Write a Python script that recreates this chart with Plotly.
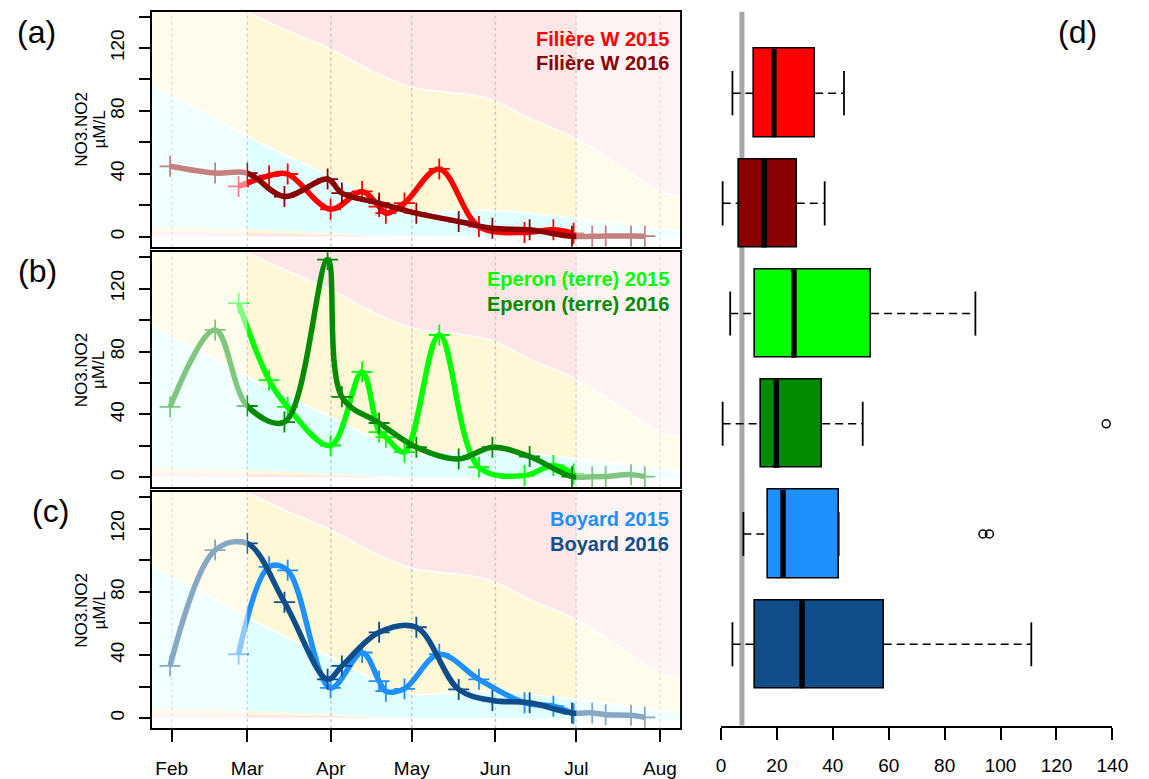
import plotly.graph_objects as go

# ---------------- data ----------------
month_days = [32, 60, 91, 121, 152, 182, 213]
month_labels = ["Feb", "Mar", "Apr", "May", "Jun", "Jul", "Aug"]

days_2015 = [56.8, 68.1, 75.0, 90.9, 102.6, 108.9, 111.4, 118.3, 131.2, 145.9, 162.8, 173.5, 181.0]
days_2016 = [31.4, 48.1, 60.0, 73.8, 89.8, 95.1, 108.9, 122.7, 138.4, 150.9, 164.7, 180.4,
             187.9, 192.9, 202.3, 207.4]

filiere_2015 = [32.0, 38.8, 39.9, 17.5, 28.8, 19.2, 15.0, 21.4, 43.1, 6.5, 2.7, 4.4, 2.2]
filiere_2016 = [44.8, 40.5, 40.5, 25.6, 36.7, 27.8, 21.4, 15.0, 9.7, 5.4, 4.4, 0.3, 0.3, 0.5, 0.5, 0.4]
eperon_2015 = [110.8, 61.8, 44.8, 20.3, 67.1, 28.8, 25.6, 16.1, 90.5, 6.5, 1.2, 7.6, 2.2]
eperon_2016 = [44.8, 93.7, 45.4, 35.2, 138.4, 51.2, 34.6, 19.2, 11.8, 19.2, 13.3, 0.5, 0.5, 0.6, 1.8, 0.5]
boyard_2015 = [40.5, 95.9, 93.7, 19.2, 41.6, 23.5, 17.1, 18.6, 40.5, 24.6, 9.7, 7.6, 2.7]
boyard_2016 = [33.1, 106.5, 110.8, 73.5, 24.6, 33.1, 54.4, 57.6, 18.2, 11.2, 9.7, 3.3, 3.3, 2.2, 1.8, 0.5]

# background threshold envelopes (day of year -> value)
band_days = [24.8, 42, 60, 75, 91, 106, 121, 134, 150, 165, 182, 200, 213, 221]
band_top = [170, 157, 142.7, 131, 119.3, 105.6, 95, 92, 87.5, 75, 62.5, 43, 28.8, 25.6]
band_mid = [95.9, 81, 63.9, 51.2, 38.6, 25.6, 15.2, 16, 17, 15, 11.8, 8, 5, 3.5]
band_low1 = [6.5, 5.6, 4.6, 3.6, 2.4, 1.0, 0.3, 0.1, 0.0, -0.2, -0.4, -0.6, -0.8, -0.9]
band_low2 = [3.3, 2.9, 2.4, 1.9, 1.3, 0.6, 0.3, 0.1, 0.0, -0.2, -0.4, -0.6, -0.8, -0.9]
band_low3 = [0.2, 0.2, 0.2, 0.2, 0.2, 0.2, 0.2, 0.1, 0.0, -0.2, -0.4, -0.6, -0.8, -0.9]
band_ceiling = [200] * 14

# boxplot summaries (top to bottom)
box_names = ["Filière W 2015", "Filière W 2016", "Eperon (terre) 2015",
             "Eperon (terre) 2016", "Boyard 2015", "Boyard 2016"]
box_lower = [4.1, 0.6, 3.3, 0.6, 8.0, 4.1]
box_q1 = [11.8, 6.6, 12.0, 14.3, 16.8, 12.3]
box_median = [18.9, 15.5, 26.1, 19.8, 22.2, 29.0]
box_q3 = [33.7, 27.1, 53.7, 36.2, 42.1, 58.2]
box_upper = [44.0, 37.1, 91.0, 50.7, 42.1, 111.0]
box_outliers = [[], [], [], [137.8], [93.7, 96.0], []]
threshold_value = 7.5

# ---------------- styling ----------------
FONT = "Liberation Sans, Arial, sans-serif"
PINK = "#FFE6E6"
YELLOW = "#FFF8D6"
CYAN = "#E0FFFF"
colors_2015 = ["#FF0000", "#00FF00", "#1E90FF"]
colors_2016 = ["#8B0000", "#008B00", "#104E8B"]
box_colors = ["#FF0000", "#8B0000", "#00FF00", "#008B00", "#1E90FF", "#104E8B"]

W, H = 1149, 779
XR = [24.8, 220.6]
YR = [-6.3, 143.1]

panel_xdom = [150 / W, 688 / W]
panel_px = [(11.7, 247.0), (252.5, 488.0), (493.0, 729.0)]
panel_ydom = [[1 - b / H, 1 - t / H] for t, b in panel_px]

site_2015 = [filiere_2015, eperon_2015, boyard_2015]
site_2016 = [filiere_2016, eperon_2016, boyard_2016]
legend_text = [("Filière W 2015", "Filière W 2016"),
               ("Eperon (terre) 2015", "Eperon (terre) 2016"),
               ("Boyard 2015", "Boyard 2016")]

fig = go.Figure()
annotations = []
shapes = []

for i in range(3):
    xa = "x" if i == 0 else f"x{i + 1}"
    ya = "y" if i == 0 else f"y{i + 1}"
    common = dict(xaxis=xa, yaxis=ya, showlegend=False, hoverinfo="skip")

    # stacked background bands
    stack = [
        (band_low3, None, 0, None),
        (band_low2, PINK, 0, None),
        (band_low1, YELLOW, 0, None),
        (band_mid, CYAN, 1.5, "white"),
        (band_top, YELLOW, 1.5, "white"),
        (band_ceiling, PINK, 0, None),
    ]
    for vals, fc, lw, lc in stack:
        tr = dict(x=band_days, y=vals, mode="lines",
                  line=dict(shape="spline", smoothing=1.0, width=lw,
                            color=lc if lc else "rgba(0,0,0,0)"), **common)
        if fc is not None:
            tr["fill"] = "tonexty"
            tr["fillcolor"] = fc
        fig.add_trace(go.Scatter(**tr))

    # monthly dotted guides
    for d in month_days:
        fig.add_trace(go.Scatter(x=[d, d], y=YR, mode="lines",
                                 line=dict(color="#C8C8C8", width=1.5, dash="dot"), **common))

    # series
    for days, vals, col in ((days_2015, site_2015[i], colors_2015[i]),
                            (days_2016, site_2016[i], colors_2016[i])):
        fig.add_trace(go.Scatter(
            x=days, y=vals, mode="lines+markers",
            line=dict(color=col, width=5.5, shape="spline", smoothing=1.0),
            marker=dict(symbol="cross-thin", size=15, color=col,
                        line=dict(color=col, width=1.8)),
            cliponaxis=True, **common))

    # fade Feb and July
    for x0, x1 in ((XR[0], 60), (182, XR[1])):
        shapes.append(dict(type="rect", xref=xa, yref=ya, x0=x0, x1=x1, y0=YR[0], y1=YR[1],
                           fillcolor="rgba(255,255,255,0.5)", line=dict(width=0), layer="above"))

    # in-panel legend
    top_px = panel_px[i][0]
    for j, (txt, col) in enumerate(zip(legend_text[i], (colors_2015[i], colors_2016[i]))):
        annotations.append(dict(xref="paper", yref="paper", x=678 / W,
                                y=1 - (top_px + 27 + 24.5 * j) / H,
                                xanchor="right", yanchor="middle", showarrow=False,
                                text=f"<b>{txt}</b>",
                                font=dict(family=FONT, size=20, color=col)))

    # axis title, two rotated lines
    cy = (panel_px[i][0] + panel_px[i][1]) / 2
    for txt, tx in (("NO3.NO2", 78), ("µM/L", 96)):
        annotations.append(dict(xref="paper", yref="paper", x=tx / W, y=1 - cy / H,
                                xanchor="center", yanchor="middle", showarrow=False,
                                textangle=-90, text=txt,
                                font=dict(family=FONT, size=17, color="black")))

# ---------------- boxplot panel ----------------
n = len(box_names)
pos = [n - k for k in range(n)]
bx = dict(xaxis="x4", yaxis="y4", showlegend=False, hoverinfo="skip")

# threshold line, beneath the boxes
shapes.append(dict(type="line", xref="x4", yref="y4", x0=threshold_value, x1=threshold_value,
                   y0=0.26, y1=6.74, line=dict(color="#A6A6A6", width=5), layer="below"))

wx, wy, cx, cy_ = [], [], [], []
for k in range(n):
    p = pos[k]
    if box_q3[k] < box_upper[k]:
        wx += [box_q3[k], box_upper[k], None]
        wy += [p, p, None]
    if box_lower[k] < box_q1[k]:
        wx += [box_lower[k], box_q1[k], None]
        wy += [p, p, None]
    for f in (box_lower[k], box_upper[k]):
        cx += [f, f, None]
        cy_ += [p - 0.2, p + 0.2, None]
fig.add_trace(go.Scatter(x=wx, y=wy, mode="lines",
                         line=dict(color="black", width=1.5, dash="8px,5px"), **bx))
fig.add_trace(go.Scatter(x=cx, y=cy_, mode="lines", line=dict(color="black", width=1.8), **bx))

fig.add_trace(go.Bar(orientation="h", y=pos,
                     x=[q3 - q1 for q1, q3 in zip(box_q1, box_q3)], base=box_q1,
                     width=0.8, marker=dict(color=box_colors, line=dict(color="black", width=1.6)),
                     **bx))

mx, my = [], []
for k in range(n):
    mx += [box_median[k], box_median[k], None]
    my += [pos[k] - 0.4, pos[k] + 0.4, None]
fig.add_trace(go.Scatter(x=mx, y=my, mode="lines", line=dict(color="black", width=5.5), **bx))

ox, oy = [], []
for k in range(n):
    for v in box_outliers[k]:
        ox.append(v)
        oy.append(pos[k])
fig.add_trace(go.Scatter(x=ox, y=oy, mode="markers",
                         marker=dict(symbol="circle-open", size=8, color="black",
                                     line=dict(width=1.5)), **bx))

# ---------------- panel letters ----------------
for lbl, px, py in (("(a)", 32, 32), ("(b)", 33, 271), ("(c)", 46, 512), ("(d)", 1092, 32)):
    annotations.append(dict(xref="paper", yref="paper", x=px / W, y=1 - py / H,
                            xanchor="center", yanchor="middle", showarrow=False, text=lbl,
                            font=dict(family=FONT, size=32, color="black")))

# ---------------- axes ----------------
layout = dict(width=W, height=H, margin=dict(l=0, r=0, t=0, b=0),
              paper_bgcolor="white", plot_bgcolor="white",
              font=dict(family=FONT, color="black"),
              showlegend=False, annotations=annotations, shapes=shapes, bargap=0)

ytickvals = list(range(0, 141, 20))
yticktext = [str(v) if v % 40 == 0 else "" for v in ytickvals]
for i in range(3):
    xk = "xaxis" if i == 0 else f"xaxis{i + 1}"
    yk = "yaxis" if i == 0 else f"yaxis{i + 1}"
    xa = "x" if i == 0 else f"x{i + 1}"
    ya = "y" if i == 0 else f"y{i + 1}"
    xax = dict(domain=panel_xdom, range=XR, anchor=ya, showline=True, mirror=True,
               linecolor="black", linewidth=1.6, showgrid=False, zeroline=False,
               fixedrange=True)
    if i == 2:
        xax.update(tickmode="array", tickvals=month_days, ticktext=month_labels,
                   ticks="outside", ticklen=12, tickwidth=1.5, tickcolor="black",
                   tickfont=dict(family=FONT, size=19), ticklabelstandoff=10)
    else:
        xax.update(showticklabels=False, ticks="")
    layout[xk] = xax
    layout[yk] = dict(domain=panel_ydom[i], range=YR, anchor=xa, showline=True, mirror=True,
                      linecolor="black", linewidth=1.6, showgrid=False, zeroline=False,
                      tickmode="array", tickvals=ytickvals, ticktext=yticktext,
                      ticks="outside", ticklen=11, tickwidth=1.5, tickcolor="black",
                      tickangle=-90, tickfont=dict(family=FONT, size=19),
                      ticklabelstandoff=8, fixedrange=True)

layout["xaxis4"] = dict(domain=[729.3 / W, 1128 / W], range=[0, 140], anchor="y4",
                        showline=True, linecolor="black", linewidth=1.5, showgrid=False,
                        zeroline=False, tickmode="array", tickvals=list(range(0, 141, 20)),
                        ticks="outside", ticklen=12, tickwidth=1.5, tickcolor="black",
                        tickfont=dict(family=FONT, size=19), ticklabelstandoff=10,
                        fixedrange=True)
layout["yaxis4"] = dict(domain=[1 - 726.7 / H, 1 - 11.6 / H], range=[0.26, 6.74], anchor="x4",
                        visible=False, fixedrange=True)

fig.update_layout(**layout)
fig.write_html("out.html")
